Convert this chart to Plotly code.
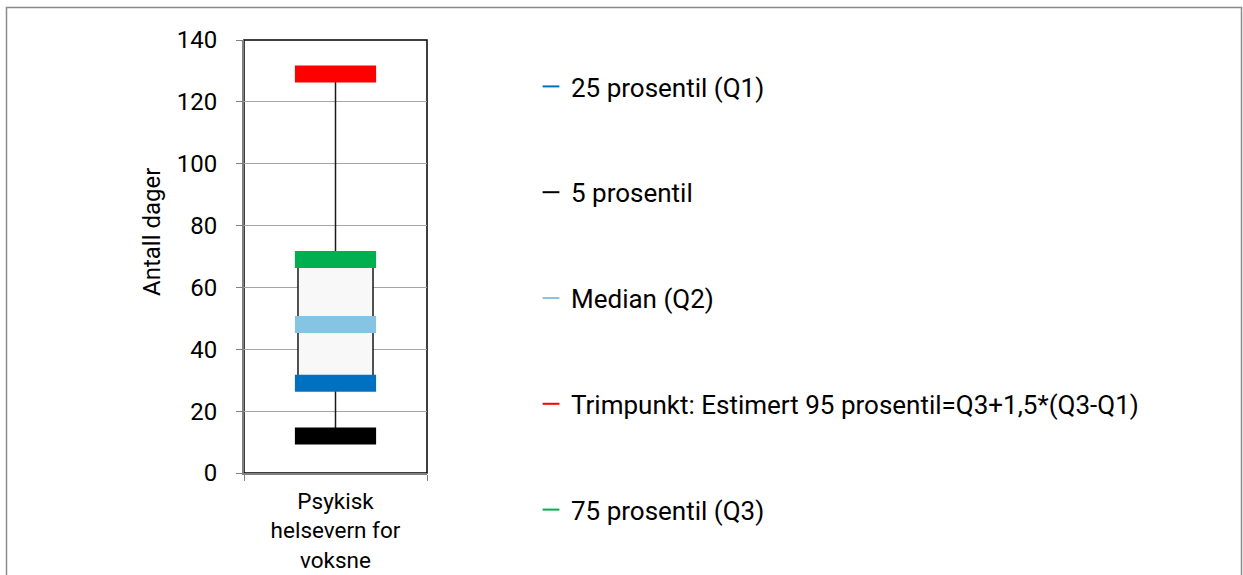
import plotly.graph_objects as go

# Data
category = ["Psykisk<br>helsevern for<br>voksne"]
p5 = [12]
q1 = [29]
median = [48]
q3 = [69]
trimpunkt = [129]

series_names = [
    "25 prosentil (Q1)",
    "5 prosentil",
    "Median (Q2)",
    "Trimpunkt: Estimert 95 prosentil=Q3+1,5*(Q3-Q1)",
    "75 prosentil (Q3)",
]
series_values = [q1, p5, median, trimpunkt, q3]
series_colors = ["#0070C0", "#000000", "#85C5E3", "#FF0000", "#00B050"]

font_family = "Roboto, Arial, sans-serif"

# plot area in page pixels
W, H = 1243, 575
plot_l, plot_r, plot_t, plot_b = 244, 427, 40, 473
pw = plot_r - plot_l
ph = plot_b - plot_t

fig = go.Figure()

# Box from Q1 to Q3 with whiskers to 5 percentile and trimpunkt
fig.add_trace(go.Box(
    x=category,
    q1=q1, median=median, q3=q3,
    lowerfence=p5, upperfence=trimpunkt,
    fillcolor="#F8F8F8",
    line=dict(color="#1A1A1A", width=1.5),
    width=0.41,
    whiskerwidth=0,
    showlegend=False,
    hoverinfo="skip",
))

# Thick horizontal markers for each statistic
for i, (name, vals, col) in enumerate(zip(series_names, series_values, series_colors)):
    fig.add_trace(go.Scatter(
        x=category,
        y=vals,
        mode="markers",
        name=name,
        legendgroup=f"g{i}",
        marker=dict(symbol="line-ew", size=58,
                    line=dict(color=col, width=17)),
    ))

fig.update_layout(
    width=W, height=H,
    margin=dict(l=plot_l, r=W - plot_r, t=plot_t, b=H - plot_b),
    paper_bgcolor="white",
    plot_bgcolor="white",
    font=dict(family=font_family, size=20, color="#000000"),
    showlegend=True,
    legend=dict(
        x=(531 - plot_l) / pw, xanchor="left",
        y=(plot_b - 63) / ph, yanchor="top",
        itemsizing="constant",
        tracegroupgap=69,
        maxheight=560,
        font=dict(size=26),
        bgcolor="rgba(0,0,0,0)",
    ),
    annotations=[
        dict(text="Antall dager", textangle=-90, showarrow=False,
             xref="paper", yref="paper",
             x=(152 - plot_l) / pw, y=(plot_b - 232) / ph,
             xanchor="center", yanchor="middle",
             font=dict(size=24)),
    ],
    shapes=[
        # outer chart border
        dict(type="rect", xref="paper", yref="paper",
             x0=(6.5 - plot_l) / pw, x1=(1241.5 - plot_l) / pw,
             y0=(plot_b - 590) / ph, y1=(plot_b - 7.5) / ph,
             line=dict(color="#8A8A8A", width=1.5), layer="below"),
        # plot area frame
        dict(type="rect", xref="paper", yref="paper",
             x0=0, x1=1, y0=0, y1=1,
             line=dict(color="#000000", width=1.5), layer="below"),
    ],
)

fig.update_yaxes(
    range=[0, 140], dtick=20,
    showgrid=True, gridcolor="#A6A6A6", gridwidth=1,
    showline=True, linecolor="#808080", linewidth=2,
    ticks="outside", ticklen=6, tickcolor="#808080",
    ticklabelstandoff=14,
    zeroline=False,
    automargin=False,
    tickfont=dict(size=24),
)
fig.update_xaxes(
    range=[-0.5, 0.5],
    showline=True, linecolor="#808080", linewidth=2,
    ticks="outside", tickson="boundaries", ticklen=6, tickcolor="#808080",
    ticklabelstandoff=7,
    automargin=False,
    tickfont=dict(size=22.5),
    showgrid=False,
)

fig.write_html("out.html", config={"displayModeBar": False},
               post_script="document.body.style.margin='0';")
